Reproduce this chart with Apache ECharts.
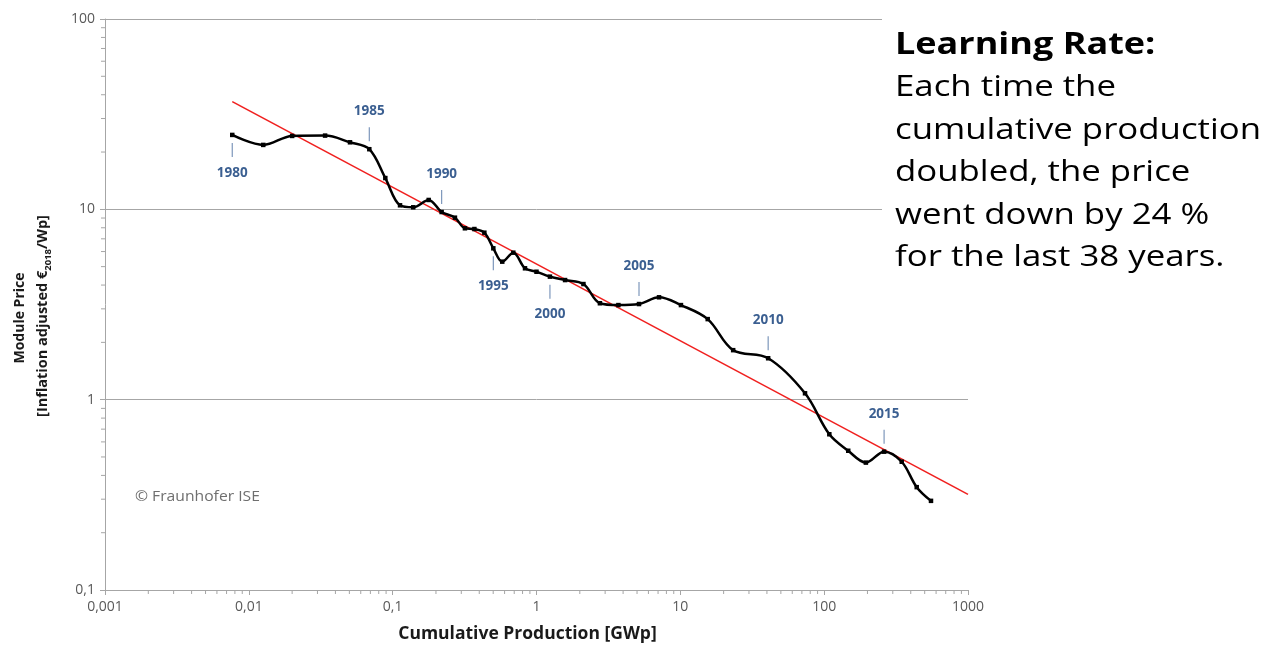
<!DOCTYPE html>
<html>
<head>
<meta charset="utf-8">
<script src="https://cdn.jsdelivr.net/npm/echarts@6/dist/echarts.min.js"></script>
<style>
  html, body { margin: 0; padding: 0; background: #ffffff; }
  #chart { width: 1276px; height: 646px; }
</style>
</head>
<body>
<div id="chart"></div>
<script>
// PV module experience curve: price vs. cumulative production, one point per year
const years = [1980, 1981, 1982, 1983, 1984, 1985, 1986, 1987, 1988, 1989,
               1990, 1991, 1992, 1993, 1994, 1995, 1996, 1997, 1998, 1999,
               2000, 2001, 2002, 2003, 2004, 2005, 2006, 2007, 2008, 2009,
               2010, 2011, 2012, 2013, 2014, 2015, 2016, 2017, 2018];
const cumulativeGWp = [0.00767, 0.0126, 0.020, 0.0339, 0.0505, 0.0688, 0.0889, 0.1125, 0.139, 0.178,
                       0.219, 0.271, 0.318, 0.37, 0.434, 0.501, 0.578, 0.690, 0.832, 1.0,
                       1.24, 1.58, 2.12, 2.76, 3.71, 5.16, 7.11, 10.1, 15.5, 23.3,
                       40.8, 73.6, 108.6, 147, 195, 261, 346, 440, 553];
const priceEurWp = [24.6, 21.8, 24.3, 24.4, 22.5, 20.7, 14.6, 10.5, 10.25, 11.2,
                    9.68, 9.04, 7.95, 7.88, 7.54, 6.24, 5.31, 5.92, 4.9, 4.70,
                    4.43, 4.25, 4.05, 3.21, 3.14, 3.18, 3.45, 3.14, 2.65, 1.82,
                    1.65, 1.08, 0.658, 0.539, 0.467, 0.533, 0.472, 0.347, 0.294];

// Fitted learning-curve line (end points)
const trendGWp = [0.00767, 1000];
const trendPrice = [36.8, 0.318];

// Years annotated on the curve; some are labelled underneath
const labelledYears = [1980, 1985, 1990, 1995, 2000, 2005, 2010, 2015];
const labelsBelow = [1980, 1995, 2000];

// Minor tick multipliers inside each decade
const minorSteps = [2, 3, 4, 5, 6, 7, 8, 9];
const xDecades = [0.001, 0.01, 0.1, 1, 10, 100];
const yDecades = [0.1, 1, 10];

// Learning-rate statement, one entry per line
const statementTitle = 'Learning Rate:';
const statementLines = ['Each time the', 'cumulative production', 'doubled, the price',
                        'went down by 24 %', 'for the last 38 years.'];

const FONT = '"Open Sans", "Noto Sans", sans-serif';
const AXIS_GREY = '#a6a6a6';
const LABEL_GREY = '#595959';
const YEAR_BLUE = '#3b5f91';
const YEAR_TICK = '#7d97bb';
const WIDE = 1.12; // horizontal stretch of the small text face

const curveData = cumulativeGWp.map((x, i) => [x, priceEurWp[i]]);
const trendData = trendGWp.map((x, i) => [x, trendPrice[i]]);
const yearMarks = labelledYears.map(y => {
  const i = years.indexOf(y);
  return [cumulativeGWp[i], priceEurWp[i], String(y), labelsBelow.includes(y) ? 1 : -1];
});
const xMinor = [];
xDecades.forEach(d => minorSteps.forEach(m => xMinor.push([d * m, 1])));
const yMinor = [];
yDecades.forEach(d => minorSteps.forEach(m => yMinor.push([1, d * m])));

function decimalComma(v) {
  return String(+Number(v).toPrecision(4)).replace('.', ',');
}

const statementGraphics = [
  { type: 'text', x: 895, y: 45, z: 60, scaleX: 1.2,
    style: { text: statementTitle, fill: '#000', fontFamily: FONT, fontWeight: 'bold',
             fontSize: 30, verticalAlign: 'middle' } }
].concat(statementLines.map((t, i) => ({
  type: 'text', x: 895, y: 88 + i * 42.5, z: 60, scaleX: 1.2,
  style: { text: t, fill: '#000', fontFamily: FONT, fontSize: 29, verticalAlign: 'middle' }
})));

const chart = echarts.init(document.getElementById('chart'), null, { renderer: 'canvas' });

chart.setOption({
  animation: false,
  backgroundColor: '#ffffff',
  grid: { left: 105, right: 308, top: 19, bottom: 56, containLabel: false, outerBoundsMode: 'none' },
  xAxis: {
    type: 'log',
    logBase: 10,
    min: 0.001,
    max: 1000,
    name: 'Cumulative Production [GWp]',
    nameLocation: 'middle',
    nameGap: 35,
    nameTextStyle: { fontFamily: FONT, fontWeight: 'bold', fontSize: 17.5, color: '#1a1a1a',
                     padding: [0, 18, 0, 0] },
    axisLine: { lineStyle: { color: AXIS_GREY, width: 1 } },
    axisTick: { show: true, length: 5, lineStyle: { color: AXIS_GREY } },
    axisLabel: { fontFamily: FONT, fontSize: 14, color: LABEL_GREY, margin: 10, formatter: decimalComma },
    splitLine: { show: false }
  },
  yAxis: {
    type: 'log',
    logBase: 10,
    min: 0.1,
    max: 100,
    axisLine: { show: true, lineStyle: { color: AXIS_GREY, width: 1 } },
    axisTick: { show: true, length: 5, lineStyle: { color: AXIS_GREY } },
    axisLabel: { fontFamily: FONT, fontSize: 14, color: LABEL_GREY, margin: 10, formatter: decimalComma },
    splitLine: { show: true, lineStyle: { color: AXIS_GREY, width: 1 } }
  },
  series: [
    {
      // minor ticks on the x axis (logarithmic spacing)
      type: 'custom',
      coordinateSystem: 'cartesian2d',
      clip: false,
      silent: true,
      data: xMinor,
      renderItem: function (params, api) {
        const px = api.coord([api.value(0), 1])[0];
        const bottom = params.coordSys.y + params.coordSys.height;
        return { type: 'line', shape: { x1: px, y1: bottom, x2: px, y2: bottom + 4 },
                 style: { stroke: AXIS_GREY, lineWidth: 1 } };
      }
    },
    {
      // minor ticks on the y axis (logarithmic spacing)
      type: 'custom',
      coordinateSystem: 'cartesian2d',
      clip: false,
      silent: true,
      data: yMinor,
      renderItem: function (params, api) {
        const py = api.coord([1, api.value(1)])[1];
        const left = params.coordSys.x;
        return { type: 'line', shape: { x1: left - 4, y1: py, x2: left, y2: py },
                 style: { stroke: AXIS_GREY, lineWidth: 1 } };
      }
    },
    {
      name: 'Learning curve fit',
      type: 'line',
      data: trendData,
      symbol: 'none',
      lineStyle: { color: '#f0201f', width: 1.6 },
      z: 3
    },
    {
      name: 'Module price',
      type: 'line',
      data: curveData,
      smooth: 0.35,
      symbol: 'rect',
      symbolSize: 4.5,
      itemStyle: { color: '#000000' },
      lineStyle: { color: '#000000', width: 2.5 },
      z: 4
    },
    {
      // year annotations: short marker line plus label
      type: 'custom',
      coordinateSystem: 'cartesian2d',
      clip: false,
      silent: true,
      data: yearMarks,
      z: 5,
      renderItem: function (params, api) {
        const p = api.coord([api.value(0), api.value(1)]);
        const dir = api.value(3);
        const label = yearMarks[params.dataIndex][2];
        return {
          type: 'group',
          children: [
            { type: 'line',
              shape: { x1: p[0], y1: p[1] + dir * 8, x2: p[0], y2: p[1] + dir * 22 },
              style: { stroke: YEAR_TICK, lineWidth: 1.2 } },
            { type: 'text',
              x: p[0], y: p[1] + dir * 38,
              style: { text: label, fill: YEAR_BLUE, fontFamily: FONT, fontWeight: 'bold',
                       fontSize: 13.5, align: 'center', verticalAlign: 'middle' } }
          ]
        };
      }
    }
  ],
  graphic: [
    {
      // y-axis title, two lines, read bottom-to-top
      type: 'text', x: 20, y: 318, rotation: Math.PI / 2, z: 10,
      style: { text: 'Module Price', fill: '#1a1a1a', fontFamily: FONT, fontWeight: 'bold',
               fontSize: 14, align: 'center', verticalAlign: 'middle' }
    },
    {
      type: 'text', x: 43, y: 316, rotation: Math.PI / 2, z: 10,
      style: {
        text: '{b|[Inflation adjusted €}{s|2018}{b|/Wp]}',
        align: 'center', verticalAlign: 'middle',
        rich: {
          b: { fill: '#1a1a1a', fontFamily: FONT, fontWeight: 'bold', fontSize: 14.5, lineHeight: 20 },
          s: { fill: '#1a1a1a', fontFamily: FONT, fontWeight: 'bold', fontSize: 9.5, lineHeight: 20,
               verticalAlign: 'bottom', padding: [8, 0, 0, 0] }
        }
      }
    },
    {
      type: 'text', x: 135, y: 497, z: 10, scaleX: WIDE,
      style: { text: '© Fraunhofer ISE', fill: '#6f6f6f', fontFamily: FONT, fontSize: 14,
               verticalAlign: 'middle' }
    },
    {
      // white panel behind the learning-rate statement
      type: 'rect', x: 882, y: 0, z: 50,
      shape: { width: 394, height: 280 },
      style: { fill: '#ffffff' }
    }
  ].concat(statementGraphics)
});
</script>
</body>
</html>
